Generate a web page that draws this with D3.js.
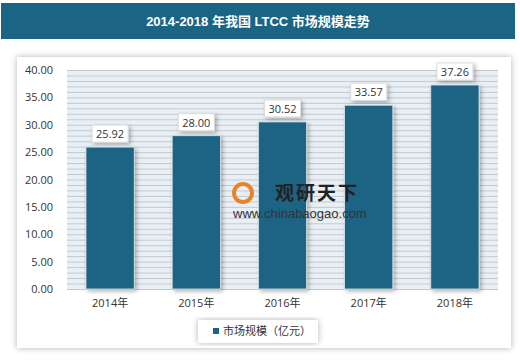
<!DOCTYPE html>
<html><head><meta charset="utf-8">
<script src="https://cdn.jsdelivr.net/npm/d3@7"></script>
<style>body{margin:0;background:#fff;}svg{display:block;}</style>
</head><body>
<script>
const categories = ["2014年","2015年","2016年","2017年","2018年"];
const values = [25.92, 28.00, 30.52, 33.57, 37.26];
const yTicks = [0,5,10,15,20,25,30,35,40];
const seriesName = "市场规模（亿元）";
const title = "2014-2018 年我国 LTCC 市场规模走势";

const W=520,H=360;
const svg=d3.select("body").append("svg").attr("width",W).attr("height",H);
const defs=svg.append("defs");
const f=defs.append("filter").attr("id","sh").attr("x","-20%").attr("y","-20%").attr("width","140%").attr("height","140%");
f.append("feDropShadow").attr("dx",2).attr("dy",2).attr("stdDeviation",2).attr("flood-color","#000").attr("flood-opacity",0.3);
const f2=defs.append("filter").attr("id","sh2").attr("x","-10%").attr("y","-10%").attr("width","120%").attr("height","120%");
f2.append("feDropShadow").attr("dx",0).attr("dy",0).attr("stdDeviation",3).attr("flood-color","#000").attr("flood-opacity",0.3);

// title banner
svg.append("rect").attr("x",1).attr("y",3).attr("width",514).attr("height",36).attr("fill","#1b6484");
svg.append("text").attr("x",258).attr("y",26).attr("text-anchor","middle").attr("fill","#fff")
  .attr("font-family","Liberation Sans, Noto Sans CJK SC, sans-serif").attr("font-weight","bold").attr("font-size",13).text(title);

// panel
svg.append("rect").attr("x",17).attr("y",57).attr("width",494).attr("height",291).attr("fill","#fff").attr("filter","url(#sh2)");

const m={l:67,r:498,t:70,b:289};
const x=d3.scaleBand().domain(categories).range([m.l,m.r]).paddingInner(0.44).paddingOuter(0.22);
const y=d3.scaleLinear().domain([0,40]).range([m.b,m.t]);

// plot background stripes
svg.append("rect").attr("x",m.l).attr("y",m.t).attr("width",m.r-m.l).attr("height",m.b-m.t).attr("fill","#e9f0f5");
svg.append("g").selectAll("line").data(d3.range(0,41,1)).join("line")
  .attr("x1",m.l).attr("x2",m.r).attr("y1",d=>y(d)+0.5).attr("y2",d=>y(d)+0.5)
  .attr("stroke","#c5c9cd").attr("stroke-width",1);

// y axis
const ya=svg.append("g").attr("transform",`translate(${m.l},0)`)
  .call(d3.axisLeft(y).tickValues(yTicks).tickFormat(d3.format(".2f")).tickSize(0).tickPadding(14));
ya.select(".domain").remove();
ya.selectAll("text").attr("font-family","Open Sans, Noto Sans, sans-serif").attr("font-size",11).attr("fill","#333");

// x axis
const xa=svg.append("g").attr("transform",`translate(0,${m.b})`).call(d3.axisBottom(x).tickSize(0).tickPadding(10));
xa.select(".domain").remove();
xa.selectAll("text").attr("font-family","Open Sans, Noto Sans CJK SC, sans-serif").attr("font-size",11).attr("fill","#333");

// bars
svg.append("g").selectAll("rect").data(values).join("rect")
  .attr("x",(d,i)=>x(categories[i])).attr("y",d=>y(d)).attr("width",x.bandwidth()).attr("height",d=>y(0)-y(d))
  .attr("fill","#1b6484").attr("stroke","#dfe6ea").attr("stroke-width",0.8).attr("filter","url(#sh)");

// value labels
const lg=svg.append("g").selectAll("g").data(values).join("g")
  .attr("transform",(d,i)=>`translate(${x(categories[i])+x.bandwidth()/2},${y(d)-13})`);
lg.append("rect").attr("x",-18).attr("y",-9).attr("width",36).attr("height",17).attr("fill","#fff").attr("stroke","#ddd").attr("filter","url(#sh)");
lg.append("text").attr("text-anchor","middle").attr("y",4).attr("font-family","Open Sans, Noto Sans, sans-serif")
  .attr("font-size",11).attr("fill","#333").text(d=>d.toFixed(2));

// watermark
const wm=svg.append("g");
wm.append("circle").attr("cx",243).attr("cy",193).attr("r",9).attr("fill","none").attr("stroke","#e8832a").attr("stroke-width",4);
wm.append("text").attr("x",275).attr("y",200).attr("font-family","Noto Sans CJK SC, sans-serif").attr("font-weight","bold").attr("font-size",19).attr("fill","#222").attr("letter-spacing",2).text("观研天下");
wm.append("text").attr("x",233).attr("y",218).attr("font-family","Liberation Sans, sans-serif").attr("font-size",13).attr("fill","#333").text("www.chinabaogao.com");

// legend
svg.append("rect").attr("x",198).attr("y",320).attr("width",120).attr("height",23).attr("fill","#fff").attr("filter","url(#sh2)");
svg.append("rect").attr("x",213).attr("y",328).attr("width",6).attr("height",6).attr("fill","#1b6484");
svg.append("text").attr("x",223).attr("y",335).attr("font-family","Noto Sans CJK SC, sans-serif").attr("font-size",11).attr("fill","#333").text(seriesName);
</script>
</body></html>
